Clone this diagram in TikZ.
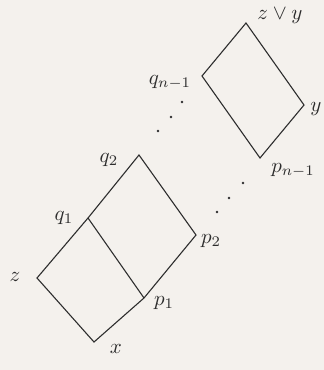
\documentclass[tikz,border=0pt]{standalone}
\definecolor{paper}{RGB}{244,241,237}
\definecolor{ink}{RGB}{45,45,45}
\begin{document}
\begin{tikzpicture}[x=1pt,y=-1pt,
  edge/.style={draw=ink,line width=1.1pt,line join=miter},
  lab/.style={text=ink,inner sep=0pt,scale=2.1},
  dotmark/.style={circle,fill=ink,inner sep=0pt,minimum size=2.6pt}]
\fill[paper] (0,0) rectangle (324,370);
\useasboundingbox (0,0) rectangle (324,370);
% lower parallelograms
\coordinate (X) at (94,342);
\coordinate (Z) at (37,278);
\coordinate (Q1) at (88,218);
\coordinate (Q2) at (139,155);
\coordinate (P2) at (196,235);
\coordinate (P1) at (144,298);
% upper parallelogram
\coordinate (T) at (246,23);
\coordinate (QN) at (202,76);
\coordinate (Y) at (304,105);
\coordinate (PN) at (260,158);
\draw[edge] (X) -- (Z) -- (Q1) -- (Q2) -- (P2) -- (P1) -- cycle;
\draw[edge] (Q1) -- (P1);
\draw[edge] (T) -- (QN) -- (PN) -- (Y) -- cycle;
% dots
\node[dotmark] (d1) at (182,102) {};
\node[dotmark] (d2) at (171,117) {};
\node[dotmark] (d3) at (158,131) {};
\node[dotmark] (e1) at (243,183) {};
\node[dotmark] (e2) at (229,198) {};
\node[dotmark] (e3) at (217,212) {};
% labels
\node[lab] (lz) at (15,277) {$z$};
\node[lab] (lx) at (116,349) {$x$};
\node[lab] (lq1) at (64,218) {$q_1$};
\node[lab] (lq2) at (109,160) {$q_2$};
\node[lab] (lp1) at (164,303) {$p_1$};
\node[lab] (lp2) at (211,241) {$p_2$};
\node[lab] (lqn) at (170,82) {$q_{n-1}$};
\node[lab] (lpn) at (293,170) {$p_{n-1}$};
\node[lab] (lt) at (280,16) {$z\vee y$};
\node[lab] (ly) at (316,109) {$y$};
\end{tikzpicture}
\end{document}
